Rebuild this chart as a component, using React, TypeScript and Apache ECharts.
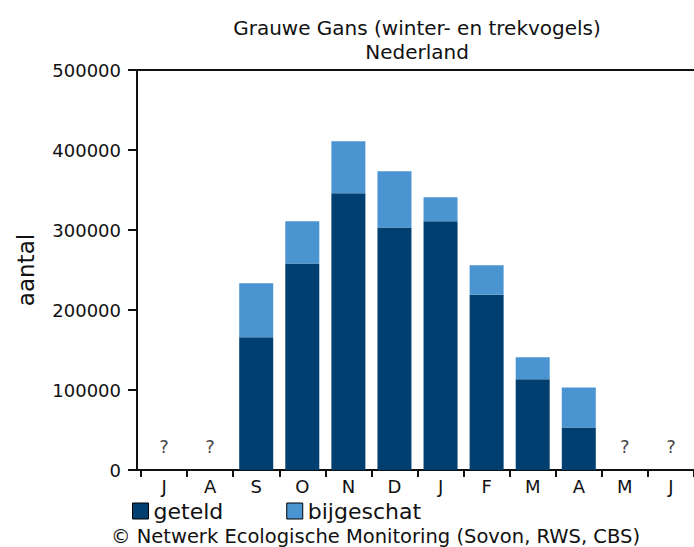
import React, { useEffect, useRef } from "react";
import * as echarts from "echarts";

const months = ["J", "A", "S", "O", "N", "D", "J", "F", "M", "A", "M", "J"];
const geteld = [null, null, 166000, 258000, 346000, 303000, 311000, 219000, 113500, 53000, null, null];
const bijgeschat = [null, null, 67500, 53000, 65000, 70500, 30000, 37000, 27500, 50000, null, null];
const unknown = [0, 0, null, null, null, null, null, null, null, null, 0, 0];
const yTicks = { min: 0, max: 500000, interval: 100000 };

const FONT = "DejaVu Sans";

export default function App() {
  const ref = useRef<HTMLDivElement>(null);
  useEffect(() => {
    document.body.style.margin = "0";
    const chart = echarts.init(ref.current!, null, { renderer: "svg" });
    chart.setOption({
      animation: false,
      backgroundColor: "#fff",
      textStyle: { fontFamily: FONT },
      title: {
        text: "Grauwe Gans (winter- en trekvogels)\nNederland",
        left: 412,
        textAlign: "center",
        top: 11,
        textStyle: { fontFamily: FONT, fontSize: 20, fontWeight: "normal", color: "#111", lineHeight: 24 },
      },
      legend: {
        data: ["geteld", "bijgeschat"],
        left: 132,
        top: 500,
        padding: 0,
        icon: "rect",
        itemWidth: 16,
        itemHeight: 16,
        itemGap: 63,
        textStyle: { fontFamily: FONT, fontSize: 22, lineHeight: 18, color: "#111", padding: [0, 0, 0, 0] },
        itemStyle: { borderColor: "#000", borderWidth: 1 },
      },
      graphic: [
        {
          type: "text",
          left: 111,
          top: 526,
          style: {
            text: "© Netwerk Ecologische Monitoring (Sovon, RWS, CBS)",
            fontFamily: FONT,
            fontSize: 19.5,
            lineHeight: 20,
            fill: "#111",
          },
        },
        { type: "line", shape: { x1: 137, y1: 70, x2: 142, y2: 70 }, style: { stroke: "#111", lineWidth: 2 } },
        { type: "line", shape: { x1: 137, y1: 470, x2: 142, y2: 470 }, style: { stroke: "#111", lineWidth: 2 } },
      ],
      grid: { left: 141, top: 70, width: 557, height: 400 },
      xAxis: [
        {
          type: "category",
          data: months,
          axisLine: { lineStyle: { color: "#111", width: 2 } },
          axisTick: { show: true, length: 7, lineStyle: { color: "#111", width: 2 } },
          axisLabel: { fontFamily: FONT, fontSize: 18, color: "#111", margin: 7 },
        },
        {
          type: "category",
          data: months,
          position: "top",
          axisLine: { lineStyle: { color: "#111", width: 2 } },
          axisTick: { show: false },
          axisLabel: { show: false },
        },
      ],
      yAxis: {
        type: "value",
        min: yTicks.min,
        max: yTicks.max,
        interval: yTicks.interval,
        offset: 4,
        name: "aantal",
        nameLocation: "middle",
        nameRotate: 90,
        nameGap: 100,
        nameTextStyle: { fontFamily: FONT, fontSize: 23, color: "#111" },
        axisLine: { show: true, lineStyle: { color: "#111", width: 2 } },
        axisTick: { show: true, length: 9, lineStyle: { color: "#111", width: 2 } },
        axisLabel: { fontFamily: FONT, fontSize: 18, color: "#111", margin: 16, formatter: (v: number) => String(v) },
        splitLine: { show: false },
      },
      series: [
        {
          name: "geteld",
          type: "bar",
          stack: "total",
          data: geteld,
          barWidth: 34,
          itemStyle: { color: "#003F6F" },
        },
        {
          name: "bijgeschat",
          type: "bar",
          stack: "total",
          data: bijgeschat,
          barWidth: 34,
          itemStyle: { color: "#4B94D2" },
        },
        {
          name: "onbekend",
          type: "scatter",
          data: unknown,
          symbolSize: 1,
          itemStyle: { color: "rgba(0,0,0,0)" },
          label: {
            show: true,
            position: "top",
            distance: 14,
            formatter: "?",
            fontFamily: FONT,
            fontSize: 18,
            color: "#111",
          },
        },
      ],
    });
    return () => chart.dispose();
  }, []);
  return <div ref={ref} style={{ width: 694, height: 547 }} />;
}
